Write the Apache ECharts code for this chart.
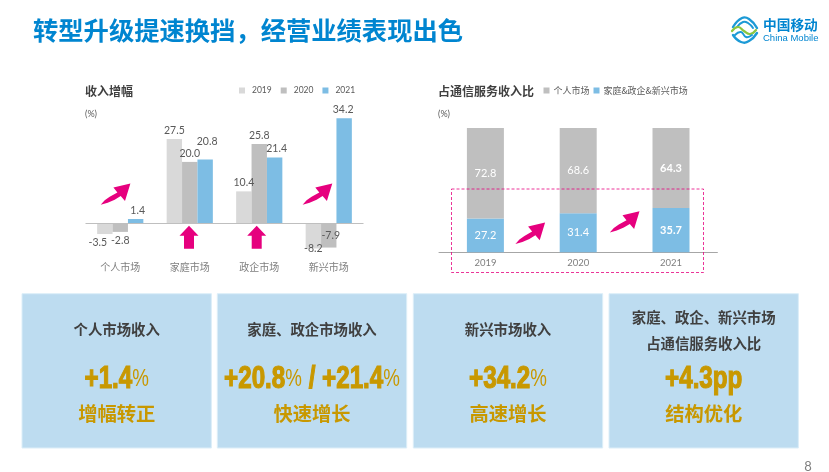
<!DOCTYPE html>
<html>
<head>
<meta charset="utf-8">
<script src="https://cdn.jsdelivr.net/npm/echarts@6/dist/echarts.min.js"></script>
<style>
html, body { margin: 0; padding: 0; background: #fff; }
#main { width: 829px; height: 472px; }
</style>
</head>
<body>
<div id="main"></div>
<script>
// 收入增幅
var markets = ['个人市场', '家庭市场', '政企市场', '新兴市场'];
var growth2019 = [-3.5, 27.5, 10.4, -8.2];
var growth2020 = [-2.8, 20.0, 25.8, -7.9];
var growth2021 = [1.4, 20.8, 21.4, 34.2];

// 占通信服务收入比
var years = ['2019', '2020', '2021'];
var shareHome = [27.2, 31.4, 35.7];
var sharePersonal = [72.8, 68.6, 64.3];

// 底部四个卡片
var cardTitles = [['个人市场收入'], ['家庭、政企市场收入'], ['新兴市场收入'], ['家庭、政企、新兴市场', '占通信服务收入比']];
var cardValues = ['{n|+1.4}{p|%}', '{n|+20.8}{p|%}{n| / +21.4}{p|%}', '{n|+34.2}{p|%}', '{n|+4.3pp}'];
var cardNotes = ['增幅转正', '快速增长', '高速增长', '结构优化'];

var PINK = '#E6007E';
var GOLD = '#C89800';
var DARK = '#404040';
var BLUE = '#0085D0';
var NUM_FONT = 'Lato, "Liberation Sans", sans-serif';
var CJK_FONT = '"Noto Sans CJK SC", sans-serif';

// 标签微调 [x, y]，原图有几个标签是手工挪过的
var shift2019 = [[-7, 0], [0, 0], [0, 0], [0, -8]];
var shift2020 = [[0, 0], [0, 0], [0, 0], [2, -20]];
var shift2021 = [[2, 0], [2, -9.5], [2, 0], [-1, 0]];

function growthData(values, shifts) {
    return values.map(function(v, i) {
        return {
            value: v,
            label: {
                position: v < 0 ? 'bottom' : 'top',
                offset: shifts[i]
            }
        };
    });
}

function growthSeries(name, values, shifts, color) {
    return {
        name: name,
        type: 'bar',
        xAxisIndex: 0,
        yAxisIndex: 0,
        barWidth: 15.4,
        barGap: 0,
        itemStyle: { color: color },
        label: {
            show: true,
            fontFamily: NUM_FONT,
            fontSize: 10.5,
            color: '#595959',
            distance: 3,
            formatter: function(p) { return p.value.toFixed(1); }
        },
        data: growthData(values, shifts)
    };
}

function shareSeries(name, values, color, boldIndex) {
    return {
        name: name,
        type: 'bar',
        stack: 'share',
        xAxisIndex: 1,
        yAxisIndex: 1,
        barWidth: 37,
        itemStyle: { color: color },
        label: {
            show: true,
            position: 'inside',
            fontFamily: NUM_FONT,
            fontSize: 11,
            color: '#fff',
            formatter: function(p) { return p.value.toFixed(1); }
        },
        data: values.map(function(v, i) {
            return i === boldIndex ? { value: v, label: { fontWeight: 'bold' } } : v;
        })
    };
}

function plainText(x, y, text, size, color, align, weight, font) {
    return {
        type: 'text',
        x: x,
        y: y,
        z: 20,
        style: {
            text: text,
            fontSize: size,
            fill: color,
            align: align || 'left',
            verticalAlign: 'middle',
            fontWeight: weight || 'normal',
            fontFamily: font || CJK_FONT
        }
    };
}

// 粉色弯箭头，x/y 是箭尾
function curvedArrow(x, y) {
    return {
        type: 'polygon',
        x: x,
        y: y,
        z: 20,
        shape: {
            points: [[0, 0], [4, -4.5], [9, -8], [16.7, -12.3], [12.7, -17.3], [29.7, -21.3],
                [24.3, -3.7], [20, -8.7], [14, -5], [7, -2]]
        },
        style: { fill: PINK }
    };
}

// 粉色上箭头，x/y 是箭尖
function upArrow(x, y) {
    return {
        type: 'polygon',
        x: x,
        y: y,
        z: 20,
        shape: {
            points: [[0, 0], [9.5, 10], [5, 10], [5, 23], [-5, 23], [-5, 10], [-9.5, 10]]
        },
        style: { fill: PINK }
    };
}

function logoArc(points, color, width) {
    return {
        type: 'polyline',
        z: 20,
        shape: { points: points, smooth: 0.5 },
        style: { stroke: color, lineWidth: width, fill: 'none', lineCap: 'round' }
    };
}

var cardLeft = [22, 217.3, 413.3, 609];
var graphics = [];

graphics.push(plainText(33, 30, '转型升级提速换挡，经营业绩表现出色', 25.3, BLUE, 'left', 'bold'));
graphics.push(plainText(85, 91, '收入增幅', 12, DARK, 'left', 'bold'));
graphics.push(plainText(438, 91, '占通信服务收入比', 12, DARK, 'left', 'bold'));
graphics.push(plainText(85, 114.5, '(%)', 9, '#595959', 'left', 'normal', NUM_FONT));
graphics.push(plainText(438, 114.5, '(%)', 9, '#595959', 'left', 'normal', NUM_FONT));
graphics.push(plainText(808, 467, '8', 13, '#7F7F7F', 'center', 'normal', NUM_FONT));

// logo
graphics.push(logoArc([[733, 27], [742, 18], [749, 19], [757, 28]], '#1C9AD6', 2.4));
graphics.push(logoArc([[737, 27], [743, 22], [748, 23], [753, 28]], '#1C9AD6', 2));
graphics.push(logoArc([[732, 31], [738, 27], [744, 31], [750, 34], [756, 30]], '#8CC63F', 2.2));
graphics.push(logoArc([[735, 35], [741, 32], [746, 37], [752, 35]], '#1C9AD6', 2));
graphics.push(logoArc([[733, 35], [741, 42], [749, 41], [757, 33]], '#1C9AD6', 2.4));
graphics.push(plainText(763, 25, '中国移动', 13.7, BLUE, 'left', 'bold'));
graphics.push(plainText(763, 38.5, 'China Mobile', 9.5, BLUE, 'left', 'normal', '"Liberation Sans", sans-serif'));

graphics.push(curvedArrow(100.7, 204.7));
graphics.push(curvedArrow(302.6, 204.7));
graphics.push(curvedArrow(515.4, 243.9));
graphics.push(curvedArrow(609.8, 232.6));
graphics.push(upArrow(189, 225.7));
graphics.push(upArrow(256.7, 225.7));

// 虚线框
graphics.push({
    type: 'rect',
    z: 20,
    shape: { x: 451.5, y: 189, width: 252, height: 83.5 },
    style: { fill: 'none', stroke: PINK, lineWidth: 0.8, lineDash: [3, 2] }
});

cardLeft.forEach(function(x, i) {
    var cx = x + 94.7;
    graphics.push({
        type: 'rect',
        z: 1,
        shape: { x: x, y: 293.7, width: 189.4, height: 154.3 },
        style: { fill: '#BDDCF0', stroke: '#DCEEF8', lineWidth: 1 }
    });
    if (cardTitles[i].length === 1) {
        graphics.push(plainText(cx, 330, cardTitles[i][0], 14.4, DARK, 'center', 'bold'));
    } else {
        graphics.push(plainText(cx, 317.5, cardTitles[i][0], 14.4, DARK, 'center', 'bold'));
        graphics.push(plainText(cx, 343.5, cardTitles[i][1], 14.4, DARK, 'center', 'bold'));
    }
    // 原图是 Impact 一类的窄粗体，这里没有，横向压缩代替
    graphics.push({
        type: 'text',
        x: cx,
        y: 379,
        z: 20,
        scaleX: 0.78,
        style: {
            text: cardValues[i],
            align: 'center',
            verticalAlign: 'middle',
            rich: {
                n: {
                    fontFamily: '"Liberation Sans", sans-serif',
                    fontWeight: 'bold',
                    fontSize: 31,
                    fill: GOLD,
                    stroke: GOLD,
                    lineWidth: 1.2
                },
                p: {
                    fontFamily: '"Liberation Sans", sans-serif',
                    fontSize: 24,
                    fill: GOLD
                }
            }
        }
    });
    graphics.push(plainText(cx, 414, cardNotes[i], 19.3, GOLD, 'center', 'bold'));
});

var myChart = echarts.init(document.getElementById('main'), null, { renderer: 'canvas' });

var option = {
    backgroundColor: '#fff',
    animation: false,
    textStyle: { fontFamily: CJK_FONT },
    legend: [{
        data: ['2019', '2020', '2021'],
        left: 234,
        top: 81,
        itemWidth: 6,
        itemHeight: 6,
        itemGap: 9,
        icon: 'rect',
        textStyle: { fontFamily: NUM_FONT, fontSize: 8.5, color: '#595959', padding: [0, 0, 0, 2] }
    }, {
        data: ['个人市场', '家庭&政企&新兴市场'],
        left: 538.5,
        top: 81,
        itemWidth: 6,
        itemHeight: 6,
        itemGap: 4,
        icon: 'rect',
        textStyle: { fontFamily: CJK_FONT, fontSize: 9, color: '#595959', padding: [0, 0, 0, -1] }
    }],
    grid: [
        { left: 85.5, width: 278, top: 115.85, height: 138.15 },
        { left: 439, width: 278.4, top: 128, height: 124.3 }
    ],
    xAxis: [{
        type: 'category',
        gridIndex: 0,
        data: markets,
        axisLine: { show: false },
        axisTick: { show: false },
        axisLabel: { fontSize: 10, color: '#7F7F7F', margin: 8 }
    }, {
        type: 'category',
        gridIndex: 1,
        data: years,
        axisLine: { lineStyle: { color: '#A6A6A6', width: 1 } },
        axisTick: { show: false },
        axisLabel: { fontFamily: NUM_FONT, fontSize: 9.5, color: '#7F7F7F', margin: 6 }
    }],
    yAxis: [{
        type: 'value',
        gridIndex: 0,
        min: -10,
        max: 35,
        show: false
    }, {
        type: 'value',
        gridIndex: 1,
        min: 0,
        max: 100,
        show: false
    }],
    series: [
        growthSeries('2019', growth2019, shift2019, '#D9D9D9'),
        growthSeries('2020', growth2020, shift2020, '#BFBFBF'),
        Object.assign(growthSeries('2021', growth2021, shift2021, '#7DBDE4'), {
            // 零轴，标签要留在图底部所以不用 onZero
            markLine: {
                silent: true,
                symbol: 'none',
                label: { show: false },
                lineStyle: { color: '#BFBFBF', width: 1.2, type: 'solid' },
                data: [{ yAxis: 0 }]
            }
        }),
        shareSeries('家庭&政企&新兴市场', shareHome, '#7DBDE4', 2),
        shareSeries('个人市场', sharePersonal, '#BFBFBF', 2)
    ],
    graphic: graphics
};

myChart.setOption(option);
</script>
</body>
</html>
